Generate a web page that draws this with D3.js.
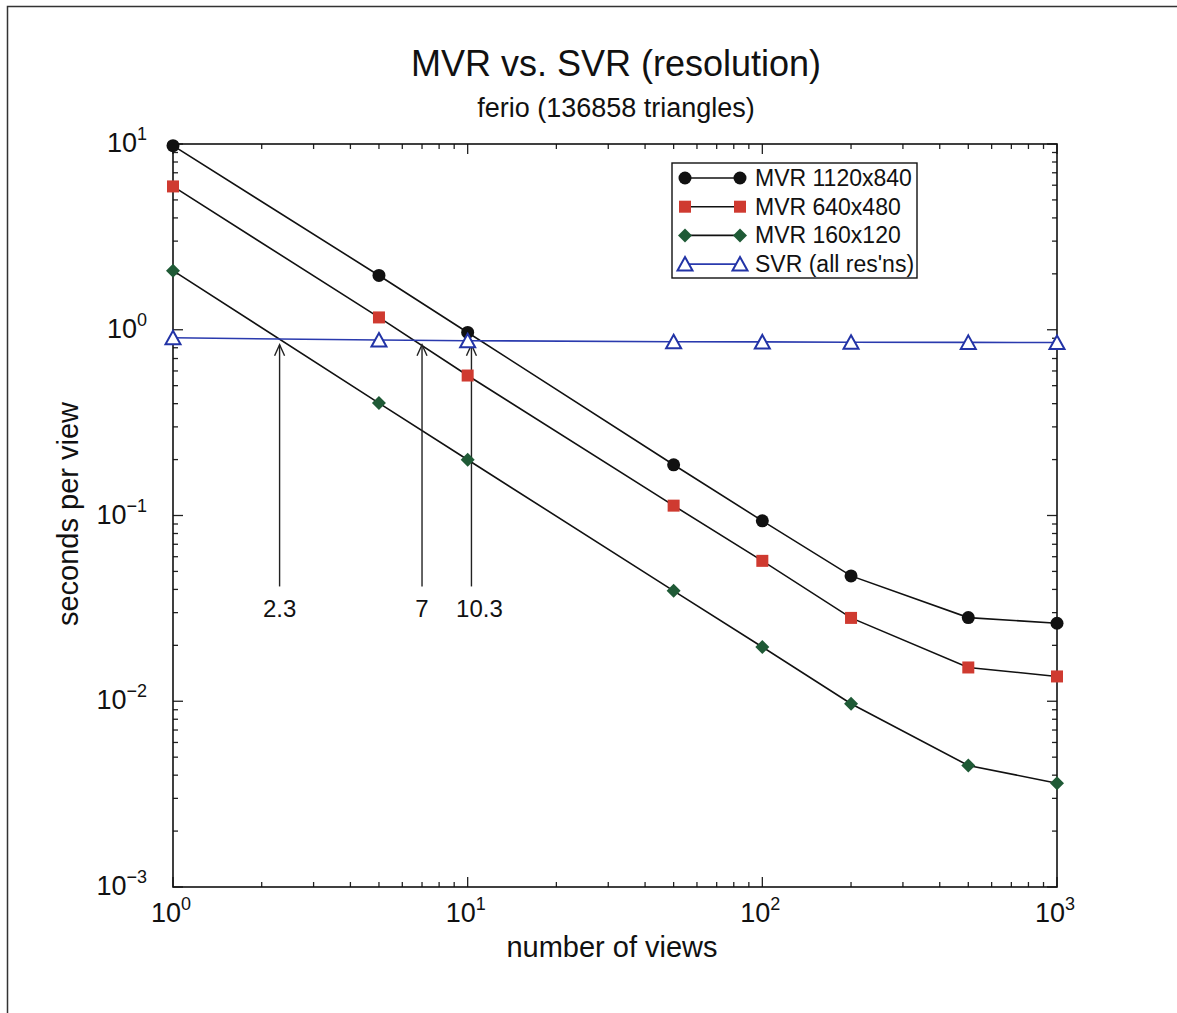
<!DOCTYPE html>
<html>
<head>
<meta charset="utf-8">
<script src="https://cdn.jsdelivr.net/npm/d3@7"></script>
<style>
  body { margin: 0; background: #fff; }
  text { font-family: "Liberation Sans", Arial, Helvetica, sans-serif; fill: #111; }
</style>
</head>
<body>
<div id="chart"></div>
<script>
// data
var views = [1, 5, 10, 50, 100, 200, 500, 1000];
var mvr1120 = [9.8, 1.96, 0.967, 0.1875, 0.0936, 0.0473, 0.0282, 0.0263];
var mvr640 = [5.91, 1.165, 0.567, 0.113, 0.057, 0.0281, 0.0152, 0.0136];
var mvr160 = [2.08, 0.403, 0.1995, 0.0393, 0.0196, 0.0097, 0.00451, 0.00362];
var svr = [0.905, 0.88, 0.873, 0.862, 0.86, 0.857, 0.855, 0.854];

var seriesNames = ["MVR 1120x840", "MVR 640x480", "MVR 160x120", "SVR (all res'ns)"];

var crossX = [2.3, 7, 10.3];
var crossLabels = ["2.3", "7", "10.3"];
var arrowBase = 0.0415, arrowTip = 0.83;

var xTickExp = [0, 1, 2, 3];
var yTickExp = [1, 0, -1, -2, -3];

(function() {
  var W = 1177, H = 1013;
  var margin = { top: 144, left: 173, right: 120, bottom: 126 },
    width = W - margin.left - margin.right,
    height = H - margin.top - margin.bottom;

  var root = d3.select("#chart").append("svg")
    .attr("width", W)
    .attr("height", H);

  root.append("rect").attr("width", W).attr("height", H).attr("fill", "#fff");

  // outer frame of the scanned figure
  root.append("path")
    .attr("d", "M7.5," + H + "V6.5H" + W)
    .attr("fill", "none").attr("stroke", "#333").attr("stroke-width", 1.5);

  var svg = root.append("g")
    .attr("transform", "translate(" + margin.left + "," + margin.top + ")");

  var xPositionScale = d3.scaleLog().domain([1, 1000]).range([0, width]);
  var yPositionScale = d3.scaleLog().domain([0.001, 10]).range([height, 0]);

  // ticks on all four sides, pointing inside
  var minorX = [], minorY = [];
  for (var e = 0; e < 3; e++) for (var m = 2; m < 10; m++) minorX.push(m * Math.pow(10, e));
  for (var e2 = -3; e2 < 1; e2++) for (var m2 = 2; m2 < 10; m2++) minorY.push(m2 * Math.pow(10, e2));
  var majorX = xTickExp.map(function(d) { return Math.pow(10, d); });
  var majorY = yTickExp.map(function(d) { return Math.pow(10, d); });

  var ticks = svg.append("g").attr("stroke", "#222").attr("stroke-width", 1.3);
  function tickX(vals, len) {
    vals.forEach(function(v) {
      var x = xPositionScale(v);
      ticks.append("line").attr("x1", x).attr("x2", x).attr("y1", height).attr("y2", height - len);
      ticks.append("line").attr("x1", x).attr("x2", x).attr("y1", 0).attr("y2", len);
    });
  }
  function tickY(vals, len) {
    vals.forEach(function(v) {
      var y = yPositionScale(v);
      ticks.append("line").attr("x1", 0).attr("x2", len).attr("y1", y).attr("y2", y);
      ticks.append("line").attr("x1", width).attr("x2", width - len).attr("y1", y).attr("y2", y);
    });
  }
  tickX(minorX, 5); tickX(majorX, 10);
  tickY(minorY, 5); tickY(majorY, 10);

  svg.append("rect")
    .attr("width", width).attr("height", height)
    .attr("fill", "none").attr("stroke", "#111").attr("stroke-width", 1.6);

  // tick labels 10^n
  xTickExp.forEach(function(d) {
    var t = svg.append("text")
      .attr("x", xPositionScale(Math.pow(10, d)) - 2)
      .attr("y", height + 35)
      .attr("text-anchor", "middle")
      .attr("font-size", 27);
    t.append("tspan").text("10");
    t.append("tspan").attr("dy", -12).attr("font-size", 18).text(d);
  });
  yTickExp.forEach(function(d) {
    var t = svg.append("text")
      .attr("x", -26)
      .attr("y", yPositionScale(Math.pow(10, d)) + 8)
      .attr("text-anchor", "end")
      .attr("font-size", 27);
    t.append("tspan").text("10");
    t.append("tspan").attr("dy", -12).attr("font-size", 18).text(d < 0 ? "\u2212" + (-d) : d);
  });

  // titles
  root.append("text").attr("x", 616).attr("y", 76).attr("text-anchor", "middle")
    .attr("font-size", 36).text("MVR vs. SVR (resolution)");
  root.append("text").attr("x", 616).attr("y", 117).attr("text-anchor", "middle")
    .attr("font-size", 27).text("ferio (136858 triangles)");
  root.append("text").attr("x", 612).attr("y", 957).attr("text-anchor", "middle")
    .attr("font-size", 29).text("number of views");
  root.append("text").attr("transform", "translate(78,514) rotate(-90)")
    .attr("text-anchor", "middle").attr("font-size", 29).text("seconds per view");

  // markers
  function drawMarker(g, kind, x, y) {
    if (kind === "circle") {
      g.append("circle").attr("cx", x).attr("cy", y).attr("r", 6.5).attr("fill", "#111");
    } else if (kind === "square") {
      g.append("rect").attr("x", x - 6).attr("y", y - 6).attr("width", 12).attr("height", 12).attr("fill", "#cf3a30");
    } else if (kind === "diamond") {
      g.append("path").attr("d", "M" + x + "," + (y - 7) + "L" + (x + 7) + "," + y + "L" + x + "," + (y + 7) + "L" + (x - 7) + "," + y + "Z")
        .attr("fill", "#1f5a36");
    } else {
      g.append("path").attr("d", "M" + x + "," + (y - 7) + "L" + (x + 7.5) + "," + (y + 6.5) + "L" + (x - 7.5) + "," + (y + 6.5) + "Z")
        .attr("fill", "#fff").attr("stroke", "#2233a6").attr("stroke-width", 2);
    }
  }

  var series = [
    { name: seriesNames[0], values: mvr1120, color: "#111", marker: "circle" },
    { name: seriesNames[1], values: mvr640, color: "#111", marker: "square" },
    { name: seriesNames[2], values: mvr160, color: "#111", marker: "diamond" },
    { name: seriesNames[3], values: svr, color: "#2a3aae", marker: "triangle" }
  ];

  var line = d3.line()
    .x(function(d) { return xPositionScale(d[0]); })
    .y(function(d) { return yPositionScale(d[1]); });

  series.forEach(function(s) {
    var pts = views.map(function(v, i) { return [v, s.values[i]]; });
    svg.append("path").datum(pts)
      .attr("d", line)
      .attr("fill", "none")
      .attr("stroke", s.color)
      .attr("stroke-width", 1.6);
  });

  // arrows to the crossover points
  var arrows = svg.append("g").attr("stroke", "#222").attr("stroke-width", 1.4).attr("fill", "none");
  crossX.forEach(function(v, i) {
    var x = xPositionScale(v), y0 = yPositionScale(arrowBase), y1 = yPositionScale(arrowTip);
    arrows.append("line").attr("x1", x).attr("x2", x).attr("y1", y0).attr("y2", y1);
    arrows.append("path").attr("d", "M" + (x - 5) + "," + (y1 + 11) + "L" + x + "," + y1 + "L" + (x + 5) + "," + (y1 + 11));
    svg.append("text")
      .attr("x", x + (i === 2 ? 8 : 0))
      .attr("y", y0 + 31)
      .attr("text-anchor", "middle")
      .attr("font-size", 24)
      .text(crossLabels[i]);
  });

  series.forEach(function(s) {
    var g = svg.append("g");
    views.forEach(function(v, i) {
      drawMarker(g, s.marker, xPositionScale(v), yPositionScale(s.values[i]));
    });
  });

  // legend
  var legend = root.append("g").attr("transform", "translate(672,163)");
  legend.append("rect").attr("width", 245).attr("height", 115)
    .attr("fill", "#fff").attr("stroke", "#111").attr("stroke-width", 1.4);
  series.forEach(function(s, i) {
    var y = 15 + i * 28.7;
    legend.append("line").attr("x1", 13).attr("x2", 68).attr("y1", y).attr("y2", y)
      .attr("stroke", s.color).attr("stroke-width", 1.6);
    drawMarker(legend, s.marker, 13, y);
    drawMarker(legend, s.marker, 68, y);
    legend.append("text").attr("x", 83).attr("y", y + 8).attr("font-size", 23).text(s.name);
  });
})();
</script>
</body>
</html>
